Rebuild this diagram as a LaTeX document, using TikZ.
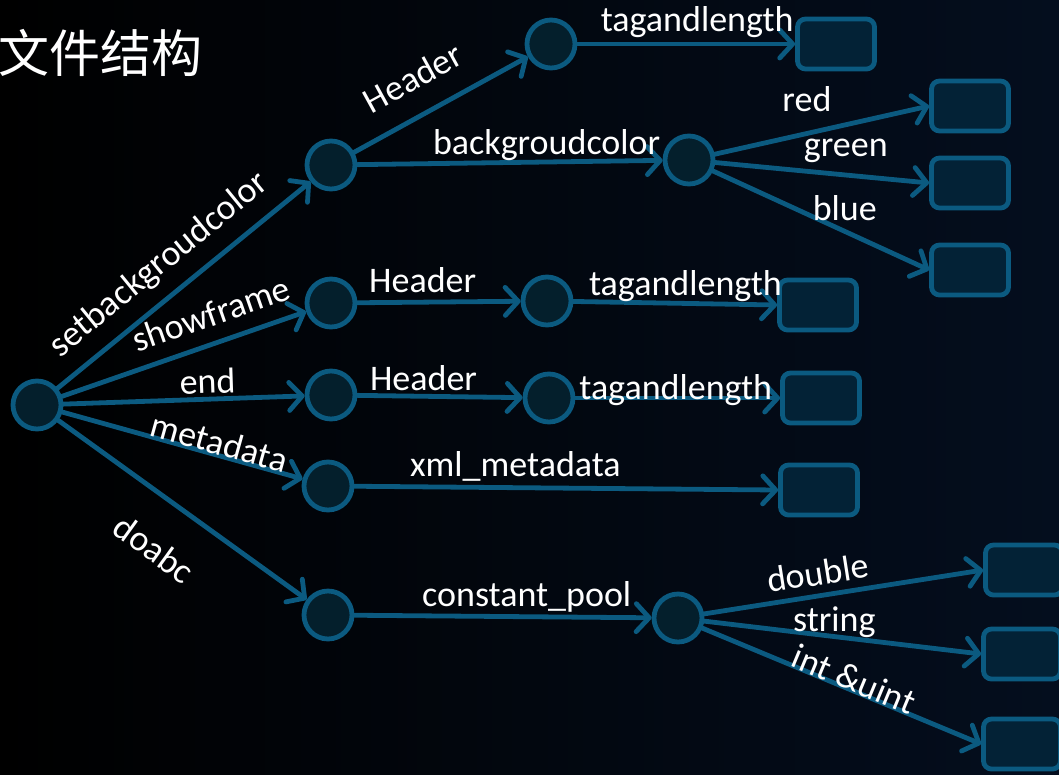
\documentclass[tikz,border=0pt]{standalone}
\usepackage{fontspec}
\setmainfont{Carlito}
\newfontfamily\cjkfont{Noto Sans CJK SC}
\usetikzlibrary{arrows.meta,positioning}
\definecolor{swfline}{RGB}{11,90,128}
\definecolor{swffill}{RGB}{4,31,44}
\definecolor{swfbox}{RGB}{3,34,54}
\definecolor{swfback}{RGB}{4,14,30}
\tikzset{
  every picture/.append style={line cap=round,line join=round},
  swf node/.style={circle,draw=swfline,fill=swffill,line width=4.8pt,minimum size=48pt,inner sep=0pt},
  swf box/.style={rectangle,rounded corners=8pt,draw=swfline,fill=swfbox,line width=4.8pt,minimum width=77pt,minimum height=50pt,inner sep=0pt},
  swf arrow/.style={draw=swfline,line width=4.8pt,-{Straight Barb[length=13pt,width=28pt,round]}},
  swf label/.style={text=white,font=\fontsize{36}{40}\selectfont,inner sep=1pt,anchor=center},
  swf title/.style={text=white,font=\cjkfont\fontsize{51}{56}\selectfont,inner sep=0pt}
}

\begin{document}
\begin{tikzpicture}[x=1pt,y=-1pt]
  \shade[left color=black,middle color=black,right color=swfback] (0,0) rectangle (1059,774);
  \useasboundingbox (0,0) rectangle (1059,774);
  \node[swf title,anchor=west] (title) at (-2,53) {文件结构};

  % circles
  \node[swf node] (root) at (37,405) {};
  \node[swf node] (bg) at (331,165) {};
  \node[swf node] (show) at (331,303) {};
  \node[swf node] (end) at (331,395) {};
  \node[swf node] (meta) at (328,486) {};
  \node[swf node] (abc) at (328,615) {};
  \node[swf node] (bghead) at (551,44) {};
  \node[swf node] (bgcolor) at (689,160) {};
  \node[swf node] (showhead) at (547,301) {};
  \node[swf node] (endhead) at (549,398) {};
  \node[swf node] (pool) at (678,618) {};

  % leaves
  \node[swf box] (bgtag) at (836,44) {};
  \node[swf box] (red) at (970,106) {};
  \node[swf box] (green) at (970,183) {};
  \node[swf box] (blue) at (970,270) {};
  \node[swf box] (showtag) at (818,305) {};
  \node[swf box] (endtag) at (821,398) {};
  \node[swf box] (xml) at (819,490) {};
  \node[swf box] (double) at (1024,570) {};
  \node[swf box] (string) at (1022,654) {};
  \node[swf box] (int) at (1022,744) {};

  % tags
  \draw[swf arrow] (root) -- (bg) node[swf label,sloped,pos=0.48,yshift=31pt] {setbackgroudcolor};
  \draw[swf arrow] (root) -- (show) node[swf label,sloped,pos=0.65,yshift=29pt] {showframe};
  \draw[swf arrow] (root) -- (end) node[swf label,sloped,pos=0.6,yshift=18pt] {end};
  \draw[swf arrow] (root) -- (meta) node[swf label,sloped,pos=0.64,yshift=13pt] {metadata};
  \draw[swf arrow] (root) -- (abc) node[swf label,sloped,pos=0.5,yshift=-48pt] {doabc};

  % setbackgroudcolor
  \draw[swf arrow] (bg) -- (bghead) node[swf label,sloped,pos=0.44,yshift=37pt] {Header};
  \draw[swf arrow] (bghead) -- (bgtag.west) node[swf label,pos=0.55,yshift=22pt] {tagandlength};
  \draw[swf arrow] (bg) -- (bgcolor) node[swf label,pos=0.62,yshift=17pt] {backgroudcolor};
  \draw[swf arrow] (bgcolor) -- (red.west) node[swf label,pos=0.43,yshift=34pt] {red};
  \draw[swf arrow] (bgcolor) -- (green.west) node[swf label,pos=0.61,yshift=24pt] {green};
  \draw[swf arrow] (bgcolor) -- (blue.west) node[swf label,pos=0.61,yshift=23pt] {blue};

  % showframe, end
  \draw[swf arrow] (show) -- (showhead) node[swf label,pos=0.4,yshift=22pt] {Header};
  \draw[swf arrow] (showhead) -- (showtag.west) node[swf label,pos=0.55,yshift=17pt] {tagandlength};
  \draw[swf arrow] (end) -- (endhead) node[swf label,pos=0.4,yshift=18pt] {Header};
  \draw[swf arrow] (endhead) -- (endtag.west) node[swf label,pos=0.49,yshift=8pt] {tagandlength};

  % metadata
  \draw[swf arrow] (meta) -- (xml.west) node[swf label,pos=0.38,yshift=21pt] {xml\_metadata};

  % doabc
  \draw[swf arrow] (abc) -- (pool) node[swf label,pos=0.58,yshift=20pt] {constant\_pool};
  \draw[swf arrow] (pool) -- (double.west) node[swf label,sloped,pos=0.42,yshift=23pt] {double};
  \draw[swf arrow] (pool) -- (string.west) node[swf label,pos=0.47,yshift=14pt] {string};
  \draw[swf arrow] (pool) -- (int.west) node[swf label,sloped,pos=0.53,yshift=11pt] {int \&uint};
\end{tikzpicture}
\end{document}
